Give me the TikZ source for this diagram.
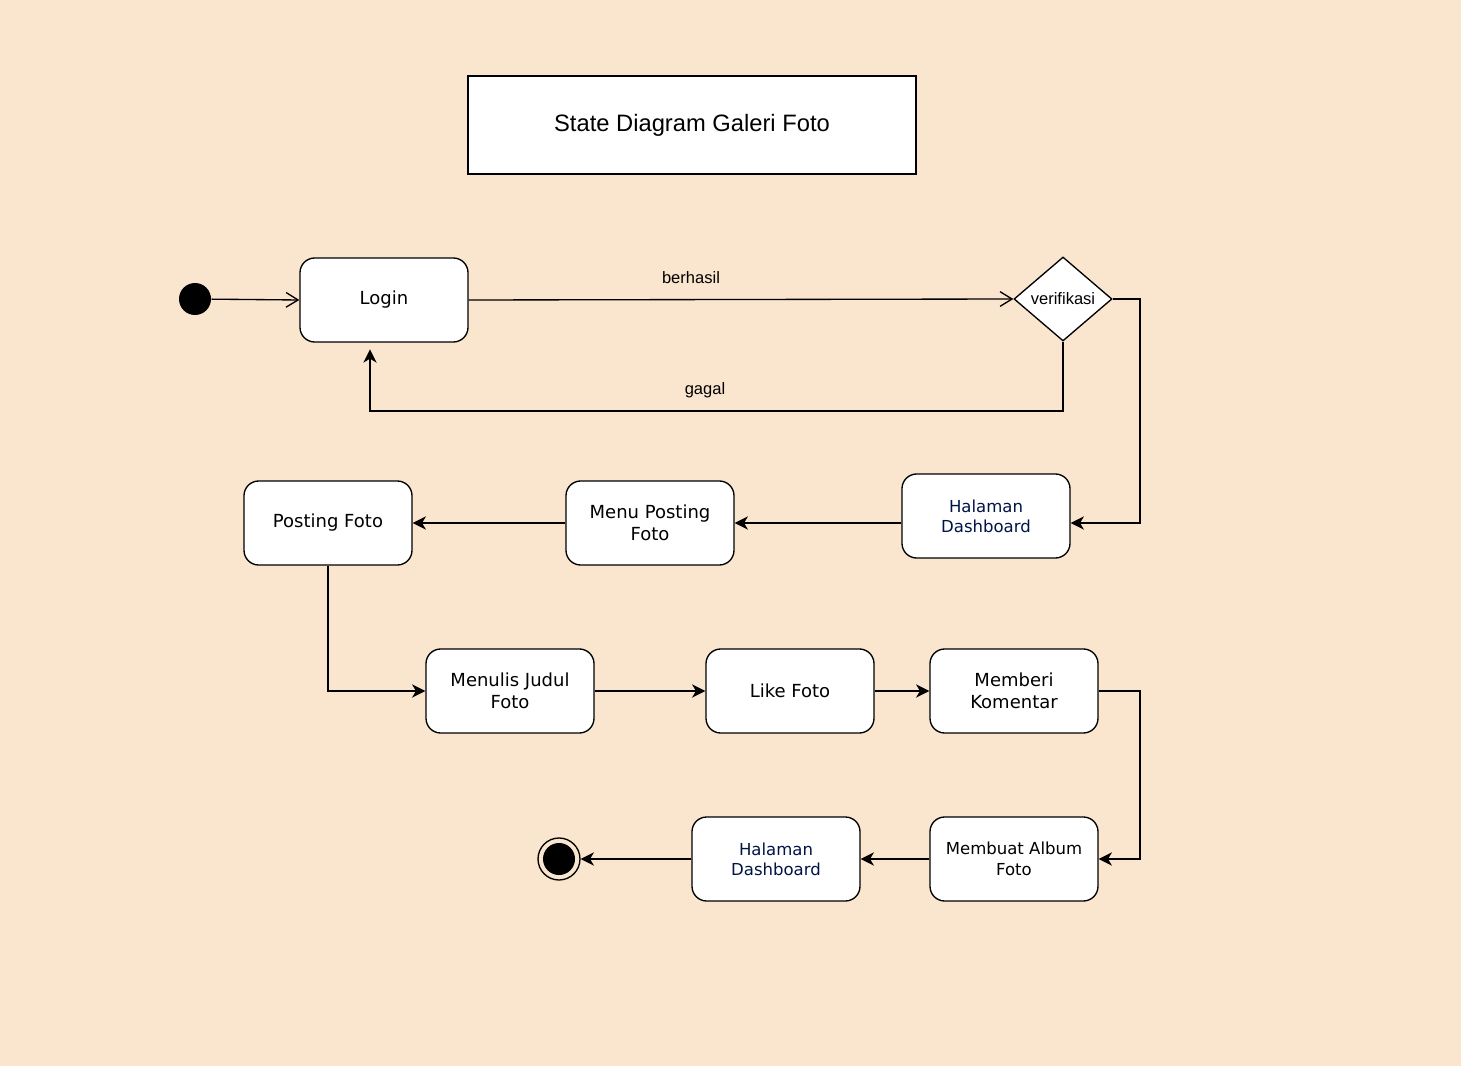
\documentclass[tikz,border=0pt]{standalone}
\usepackage{fontspec}
\setmainfont{DejaVu Sans}
\newfontfamily\arialfont{Liberation Sans}
\usetikzlibrary{shapes.geometric,arrows.meta,calc}
\definecolor{bgpeach}{RGB}{250,229,206}
\definecolor{navytext}{RGB}{0,20,70}

\begin{document}
\begin{tikzpicture}[x=0.75pt,y=-0.75pt,line width=1pt,
    statebox/.style={draw, rounded corners=11pt, fill=white, minimum width=126pt, minimum height=63pt, align=center, font=\fontsize{13.5}{16.5}\selectfont},
    dashbox/.style={statebox, font=\fontsize{12.4}{15}\selectfont},
    smalllabel/.style={font=\arialfont\fontsize{12.4}{15}\selectfont},
    arr/.style={-{Stealth[length=10pt,width=10pt,inset=3pt]}},
    openarr/.style={-{Straight Barb[length=9pt,width=11pt]}}]
        % background and margins
        \fill[bgpeach] (0,0) rectangle (1461,1066);
        \useasboundingbox (0,0) rectangle (1461,1066);

        % Title
        \node[draw, fill=white, minimum width=336pt, minimum height=73.5pt, font=\arialfont\fontsize{17.8}{21}\selectfont] (title) at (692,125) {State Diagram Galeri Foto};

        % Start, login and check
        \node[circle, fill=black, minimum size=24pt, inner sep=0pt] (start) at (195,299) {};
        \node[statebox] (login) at (384,300) {Login};
        \node[diamond, draw, fill=white, aspect=1.17, minimum width=73.5pt, minimum height=63pt, inner sep=0pt, smalllabel] (verif) at (1063,299) {verifikasi};

        % Dashboard and posting
        \node[dashbox, text=navytext] (dash1) at (986,516) {Halaman\\Dashboard};
        \node[statebox] (menupost) at (650,523) {Menu Posting\\Foto};
        \node[statebox] (posting) at (328,523) {Posting Foto};

        % Interaction row
        \node[statebox] (judul) at (510,691) {Menulis Judul\\Foto};
        \node[statebox] (like) at (790,691) {Like Foto};
        \node[statebox] (komentar) at (1014,691) {Memberi\\Komentar};

        % Album and end
        \node[dashbox, font=\fontsize{12.4}{16}\selectfont] (album) at (1014,859) {Membuat Album\\Foto};
        \node[dashbox, text=navytext] (dash2) at (776,859) {Halaman\\Dashboard};
        \node[circle, draw, minimum size=31.5pt, inner sep=0pt] (final) at (559,859) {};
        \node[circle, fill=black, minimum size=24pt, inner sep=0pt] (finaldot) at (559,859) {};

        % Bends
        \coordinate (gagalturn) at (370,411);
        \coordinate (bendA) at (1140,523);
        \coordinate (bendB) at (1140,859);

        % Transitions
        \draw[openarr] (start) -- (login.west);
        \draw[openarr] (login.east) -- (verif.west);
        \node[smalllabel] (berhasil) at (691,278) {berhasil};
        \draw[arr, shorten >=5pt] (verif.south) |- (gagalturn) -- (gagalturn |- login.south);
        \node[smalllabel] (gagal) at (705,390) {gagal};
        \draw[arr] (verif.east) -| (bendA) -- (bendA -| dash1.east);
        \draw[arr] (menupost.east -| dash1.west) -- (menupost.east);
        \draw[arr] (menupost.west) -- (posting.east);
        \draw[arr] (posting.south) |- (judul.west);
        \draw[arr] (judul.east) -- (like.west);
        \draw[arr] (like.east) -- (komentar.west);
        \draw[arr] (komentar.east) -| (bendB) -- (album.east);
        \draw[arr] (album.west) -- (dash2.east);
        \draw[arr] (dash2.west) -- (final.east);
\end{tikzpicture}
\end{document}
